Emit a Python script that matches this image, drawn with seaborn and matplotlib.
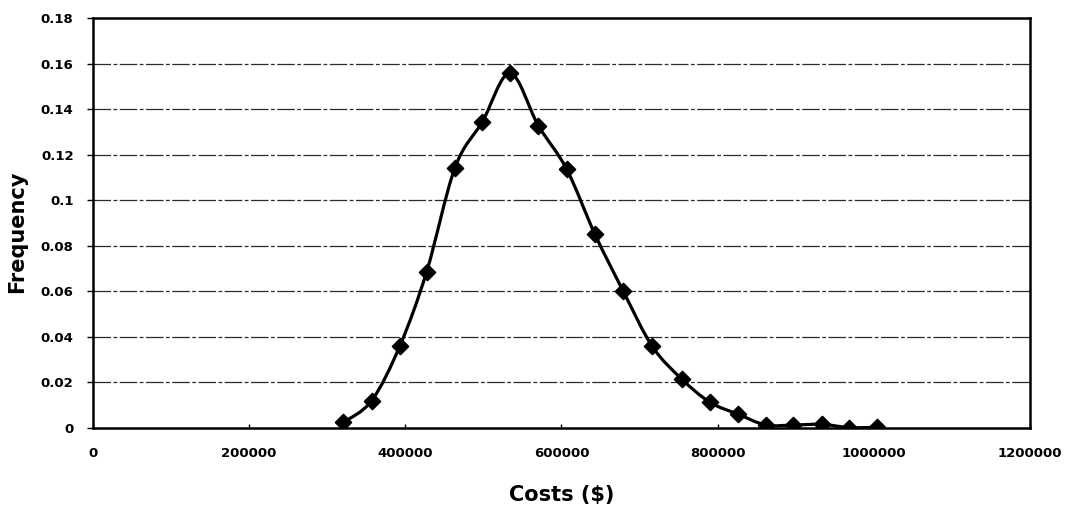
import matplotlib
matplotlib.use("Agg")
import matplotlib.pyplot as plt
import pandas as pd
import seaborn as sns
from matplotlib.path import Path
from matplotlib.patches import PathPatch

# Simulated project cost distribution
costs = [320600, 356900, 393200, 427400, 463600, 498600, 534100, 570300,
         606700, 642900, 679200, 716300, 754000, 790200, 826500, 861900,
         896900, 933300, 968600, 1003700]
frequency = [0.0025, 0.0120, 0.0362, 0.0687, 0.1143, 0.1344, 0.1558, 0.1328,
             0.1136, 0.0850, 0.0600, 0.0358, 0.0215, 0.0113, 0.0060, 0.0013,
             0.0013, 0.0016, 0.0002, 0.0003]

x_ticks = [0, 200000, 400000, 600000, 800000, 1000000, 1200000]
x_tick_labels = ["0", "200000", "400000", "600000", "800000", "1000000", "1200000"]
y_ticks = [0, 0.02, 0.04, 0.06, 0.08, 0.10, 0.12, 0.14, 0.16, 0.18]
y_tick_labels = ["0", "0.02", "0.04", "0.06", "0.08", "0.1", "0.12", "0.14", "0.16", "0.18"]

df = pd.DataFrame({"Costs": costs, "Frequency": frequency})

sns.set_theme(style="white")
plt.rcParams["font.family"] = ["DejaVu Sans"]
plt.rcParams["text.color"] = "black"
plt.rcParams["xtick.color"] = "black"
plt.rcParams["ytick.color"] = "black"
plt.rcParams["axes.labelcolor"] = "black"

fig = plt.figure(figsize=(10.7, 5.13), dpi=100)
ax = fig.add_axes([0.0869, 0.1657, 0.8757, 0.7992])


def smooth_path(xs, ys):
    """Cubic Bezier path through every point (Catmull-Rom style tangents)."""
    n = len(xs)
    verts = [(xs[0], ys[0])]
    codes = [Path.MOVETO]
    for i in range(n - 1):
        x0, y0 = (xs[i - 1], ys[i - 1]) if i > 0 else (xs[i], ys[i])
        x1, y1 = xs[i], ys[i]
        x2, y2 = xs[i + 1], ys[i + 1]
        x3, y3 = (xs[i + 2], ys[i + 2]) if i + 2 < n else (x2, y2)
        c1 = (x1 + (x2 - x0) / 6.0, y1 + (y2 - y0) / 6.0)
        c2 = (x2 - (x3 - x1) / 6.0, y2 - (y3 - y1) / 6.0)
        verts += [c1, c2, (x2, y2)]
        codes += [Path.CURVE4] * 3
    return Path(verts, codes)


# horizontal grid lines
for yv in y_ticks[1:-1]:
    ax.axhline(yv, color="#2a2a2a", lw=0.9, ls=(0, (14, 2, 3, 2)), zorder=1)

curve = PathPatch(smooth_path(df["Costs"].tolist(), df["Frequency"].tolist()),
                  facecolor="none", edgecolor="black", lw=2.3, zorder=3,
                  capstyle="round", joinstyle="round")
ax.add_patch(curve)

sns.scatterplot(data=df, x="Costs", y="Frequency", ax=ax, marker="D", s=65,
                color="black", edgecolor="black", linewidth=1.3, zorder=4,
                legend=False)

ax.set_xlim(0, 1200000)
ax.set_ylim(0, 0.18)
ax.set_xticks(x_ticks)
ax.set_xticklabels(x_tick_labels, fontsize=9.5, fontweight="bold")
ax.set_yticks(y_ticks)
ax.set_yticklabels(y_tick_labels, fontsize=9.5, fontweight="bold")
ax.tick_params(axis="x", which="both", direction="in", length=3, pad=14,
               width=1, bottom=True)
ax.tick_params(axis="y", which="both", direction="out", length=4, pad=10,
               width=1, left=True)

for side in ["left", "right", "top", "bottom"]:
    ax.spines[side].set_visible(True)
    ax.spines[side].set_color("black")
    ax.spines[side].set_linewidth(1.8)

ax.set_xlabel("Costs ($)", fontsize=15, fontweight="bold", va="center")
ax.xaxis.set_label_coords(0.5, -0.163)
ax.set_ylabel("Frequency", fontsize=15, fontweight="bold", va="center",
              ha="center")
ax.yaxis.set_label_coords(-0.081, 0.478)

fig.savefig("out.png", dpi=100, facecolor="white")
